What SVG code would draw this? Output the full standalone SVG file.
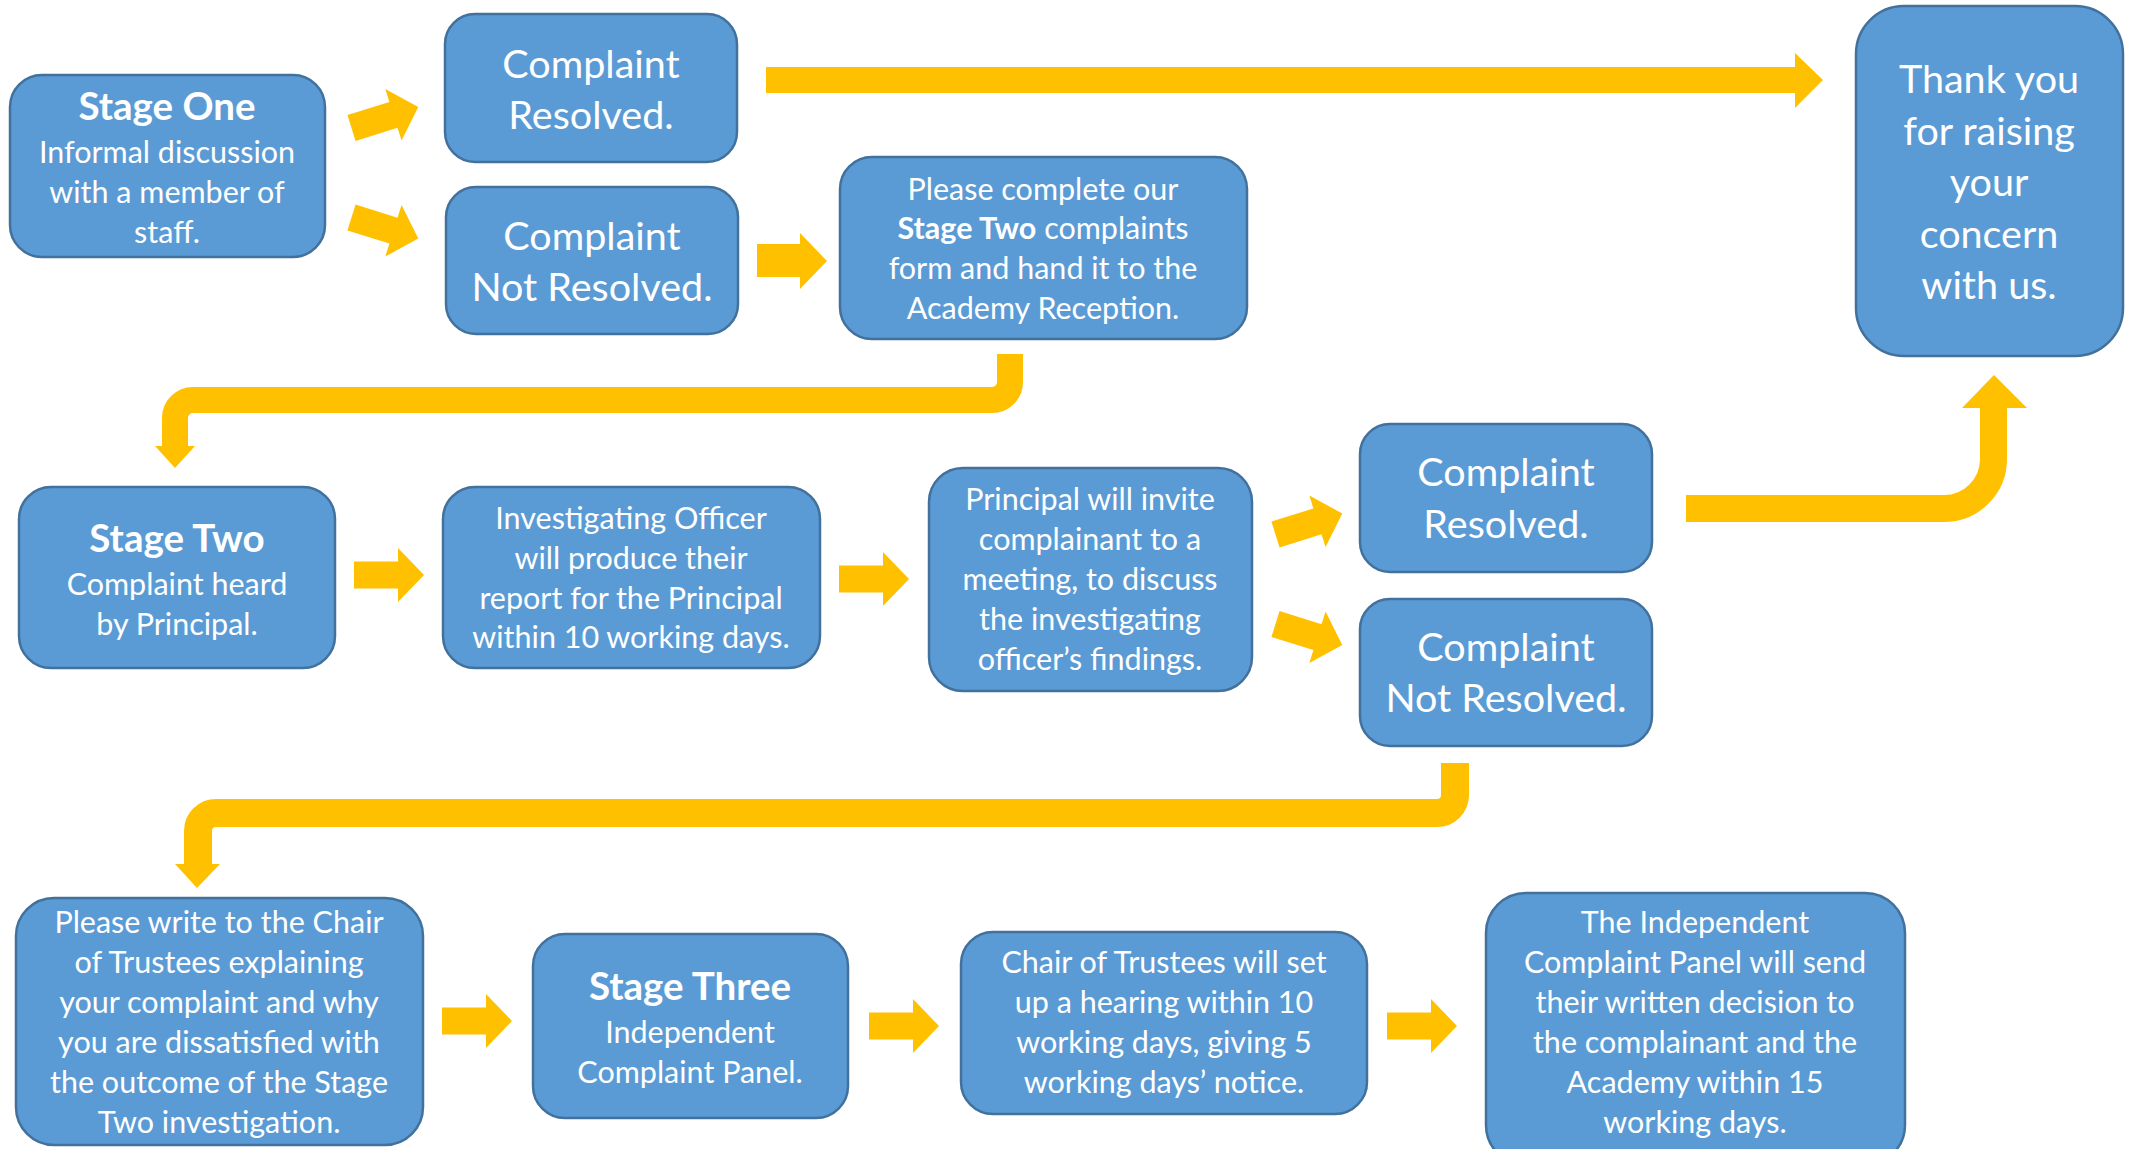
<svg xmlns="http://www.w3.org/2000/svg" xmlns:xlink="http://www.w3.org/1999/xlink" width="2132" height="1149" viewBox="0 0 2132 1149">
<style>
.box{fill:#5B9BD5;stroke:#41719C;stroke-width:2.5}
text{font-family:Lato,"Open Sans","Liberation Sans",sans-serif;fill:#FFFFFF;text-anchor:middle}
.b{font-size:30.5px}
.big{font-size:39.5px}
.t{font-size:38.5px;font-weight:bold}
.arr{fill:#FFC000}
.bend{fill:none;stroke:#FFC000}
</style>
<defs>
<path id="blk" d="M0,-13.5 H44 V-27 L70,0 L44,27 V13.5 H0 Z"/>
</defs>
<rect width="2132" height="1149" fill="#FFFFFF"/>
<g id="connectors">
<use xlink:href="#blk" class="arr" transform="translate(351.5,128) rotate(-17.5)"/>
<use xlink:href="#blk" class="arr" transform="translate(351.5,217.5) rotate(17.5)"/>
<polygon class="arr" points="766,67 1795,67 1795,53 1823,80 1795,108 1795,93 766,93"/>
<polygon class="arr" points="757,244 800,244 800,233 827,261 800,289 800,277 757,277"/>
<path class="bend" stroke-width="26" d="M1010,354 V382 A18,18 0 0 1 992,400 H193 A18,18 0 0 0 175,418 V447"/>
<polygon class="arr" points="155,446 195,446 175,468"/>
<use xlink:href="#blk" class="arr" transform="translate(354,575)"/>
<use xlink:href="#blk" class="arr" transform="translate(839,579)"/>
<use xlink:href="#blk" class="arr" transform="translate(1275.5,534.5) rotate(-17.5)"/>
<use xlink:href="#blk" class="arr" transform="translate(1275.5,624) rotate(17.5)"/>
<path class="bend" stroke-width="27" d="M1686,508.5 H1944 A49.5,49.5 0 0 0 1993.5,459 V407"/>
<polygon class="arr" points="1962,408 2027,408 1994,375"/>
<path class="bend" stroke-width="28" d="M1455,763 V795 A18,18 0 0 1 1437,813 H216 A18,18 0 0 0 198,831 V865"/>
<polygon class="arr" points="175,864 220,864 197,888"/>
<use xlink:href="#blk" class="arr" transform="translate(442,1021)"/>
<use xlink:href="#blk" class="arr" transform="translate(869,1026)"/>
<use xlink:href="#blk" class="arr" transform="translate(1387,1026)"/>
</g>
<g id="stage-one">
<rect class="box" x="10" y="75" width="315" height="182" rx="32"/>
<text class="t" x="167" y="120">Stage One</text>
<text class="b" x="167" y="163">Informal discussion</text>
<text class="b" x="167" y="203">with a member of</text>
<text class="b" x="167" y="243">staff.</text>
</g>
<g id="resolved-1">
<rect class="box" x="445" y="14" width="292" height="148" rx="30"/>
<text class="big" x="591" y="78">Complaint</text>
<text class="big" x="591" y="129">Resolved.</text>
</g>
<g id="not-resolved-1">
<rect class="box" x="446" y="187" width="292" height="147" rx="30"/>
<text class="big" x="592" y="250">Complaint</text>
<text class="big" x="592" y="301">Not Resolved.</text>
</g>
<g id="stage-two-form">
<rect class="box" x="840" y="157" width="407" height="182" rx="32"/>
<text class="b" x="1043" y="200">Please complete our</text>
<text class="b" x="1043" y="239"><tspan font-weight="bold">Stage Two</tspan> complaints</text>
<text class="b" x="1043" y="279">form and hand it to the</text>
<text class="b" x="1043" y="319">Academy Reception.</text>
</g>
<g id="thank-you">
<rect class="box" x="1856" y="6" width="267" height="350" rx="48"/>
<text class="big" x="1989" y="93">Thank you</text>
<text class="big" x="1989" y="145">for raising</text>
<text class="big" x="1989" y="196">your</text>
<text class="big" x="1989" y="248">concern</text>
<text class="big" x="1989" y="299">with us.</text>
</g>
<g id="stage-two">
<rect class="box" x="19" y="487" width="316" height="181" rx="32"/>
<text class="t" x="177" y="552">Stage Two</text>
<text class="b" x="177" y="595">Complaint heard</text>
<text class="b" x="177" y="635">by Principal.</text>
</g>
<g id="investigating">
<rect class="box" x="443" y="487" width="377" height="181" rx="32"/>
<text class="b" x="631" y="529">Investigating Officer</text>
<text class="b" x="631" y="569">will produce their</text>
<text class="b" x="631" y="609">report for the Principal</text>
<text class="b" x="631" y="648">within 10 working days.</text>
</g>
<g id="principal-meeting">
<rect class="box" x="929" y="468" width="323" height="223" rx="34"/>
<text class="b" x="1090" y="510">Principal will invite</text>
<text class="b" x="1090" y="550">complainant to a</text>
<text class="b" x="1090" y="590">meeting, to discuss</text>
<text class="b" x="1090" y="630">the investigating</text>
<text class="b" x="1090" y="670">officer’s findings.</text>
</g>
<g id="resolved-2">
<rect class="box" x="1360" y="424" width="292" height="148" rx="30"/>
<text class="big" x="1506" y="486">Complaint</text>
<text class="big" x="1506" y="538">Resolved.</text>
</g>
<g id="not-resolved-2">
<rect class="box" x="1360" y="599" width="292" height="147" rx="30"/>
<text class="big" x="1506" y="661">Complaint</text>
<text class="big" x="1506" y="712">Not Resolved.</text>
</g>
<g id="write-chair">
<rect class="box" x="16" y="898" width="407" height="247" rx="38"/>
<text class="b" x="219" y="933">Please write to the Chair</text>
<text class="b" x="219" y="973">of Trustees explaining</text>
<text class="b" x="219" y="1013">your complaint and why</text>
<text class="b" x="219" y="1053">you are dissatisfied with</text>
<text class="b" x="219" y="1093">the outcome of the Stage</text>
<text class="b" x="219" y="1133">Two investigation.</text>
</g>
<g id="stage-three">
<rect class="box" x="533" y="934" width="315" height="184" rx="32"/>
<text class="t" x="690" y="1000">Stage Three</text>
<text class="b" x="690" y="1043">Independent</text>
<text class="b" x="690" y="1083">Complaint Panel.</text>
</g>
<g id="hearing">
<rect class="box" x="961" y="932" width="406" height="182" rx="32"/>
<text class="b" x="1164" y="973">Chair of Trustees will set</text>
<text class="b" x="1164" y="1013">up a hearing within 10</text>
<text class="b" x="1164" y="1053">working days, giving 5</text>
<text class="b" x="1164" y="1093">working days’ notice.</text>
</g>
<g id="decision">
<rect class="box" x="1486" y="893" width="419" height="272" rx="40"/>
<text class="b" x="1695" y="933">The Independent</text>
<text class="b" x="1695" y="973">Complaint Panel will send</text>
<text class="b" x="1695" y="1013">their written decision to</text>
<text class="b" x="1695" y="1053">the complainant and the</text>
<text class="b" x="1695" y="1093">Academy within 15</text>
<text class="b" x="1695" y="1133">working days.</text>
</g>
</svg>
